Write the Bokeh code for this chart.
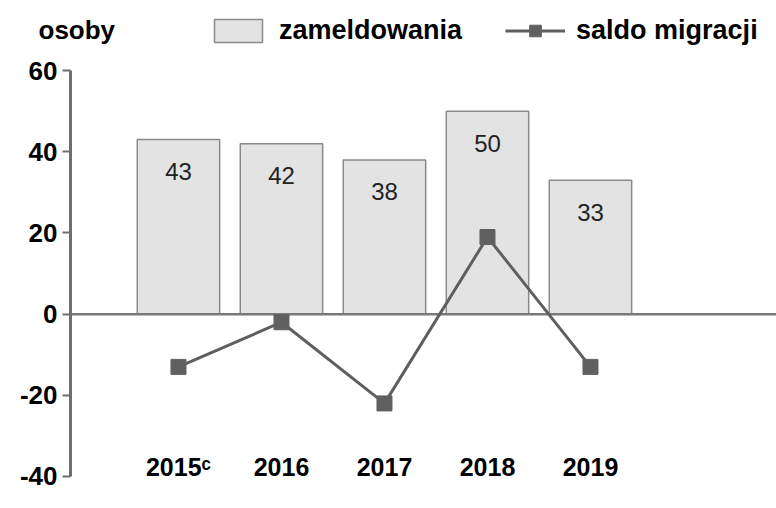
from bokeh.plotting import figure
from bokeh.models import Range1d, FixedTicker, Label, Legend, LegendItem, ColumnDataSource
from bokeh.core.properties import value
from bokeh.embed import file_html
from bokeh.resources import INLINE

years = ["2015ᶜ", "2016", "2017", "2018", "2019"]
zameldowania = [43, 42, 38, 50, 33]
saldo = [-13, -2, -22, 19, -13]
y_ticks = [-40, -20, 0, 20, 40, 60]

xs = list(range(len(years)))
src = ColumnDataSource(dict(x=xs, z=zameldowania, s=saldo, lbl=[str(v) for v in zameldowania]))

FONT = "Liberation Sans"
AXIS_X = -1.0485  # x position (data units) where the value axis stands

p = figure(width=776, height=508, output_backend="svg", toolbar_location=None,
           x_range=Range1d(-1.728, 5.806), y_range=Range1d(-43.46, 77.28),
           min_border_left=0, min_border_right=0, min_border_top=0, min_border_bottom=18)
p.outline_line_color = None
p.xgrid.visible = False
p.ygrid.visible = False
p.background_fill_color = "white"
p.border_fill_color = "white"

bars = p.vbar(x="x", top="z", bottom=0, width=0.8, source=src,
              fill_color="#e3e3e3", line_color="#8a8a8a", line_width=1.5)
p.text(x="x", y="z", text="lbl", source=src, y_offset=32, text_align="center",
       text_baseline="middle", text_font=value(FONT), text_font_size="24px", text_color="#222222")

# zero reference line starting at the value axis
p.ray(x=[AXIS_X], y=[0], length=0, angle=0, line_color="#7a7a7a", line_width=2.5)

ln = p.line(x="x", y="s", source=src, line_color="#5f5f5f", line_width=3)
sq = p.scatter(x="x", y="s", source=src, marker="square", size=15,
               fill_color="#606060", line_color="#606060")

# y axis
p.yaxis.fixed_location = AXIS_X
p.yaxis.ticker = FixedTicker(ticks=y_ticks)
p.yaxis.major_label_overrides = {t: str(t) for t in y_ticks}
p.yaxis.bounds = (-40, 60)
p.yaxis.axis_line_color = "#6e6e6e"
p.yaxis.axis_line_width = 3
p.yaxis.major_tick_line_color = "#6e6e6e"
p.yaxis.major_tick_line_width = 2
p.yaxis.major_tick_out = 8
p.yaxis.major_tick_in = 0
p.yaxis.minor_tick_line_color = None
p.yaxis.major_label_text_font = FONT
p.yaxis.major_label_text_font_style = "bold"
p.yaxis.major_label_text_font_size = "26px"
p.yaxis.major_label_text_color = "black"
p.yaxis.major_label_standoff = 5

# x axis
p.xaxis.ticker = FixedTicker(ticks=xs)
p.xaxis.major_label_overrides = {i: y for i, y in zip(xs, years)}
p.xaxis.axis_line_color = None
p.xaxis.major_tick_line_color = None
p.xaxis.minor_tick_line_color = None
p.xaxis.major_label_text_font = FONT
p.xaxis.major_label_text_font_style = "bold"
p.xaxis.major_label_text_font_size = "25px"
p.xaxis.major_label_text_color = "black"
p.xaxis.major_label_standoff = -44

legend = Legend(items=[LegendItem(label="zameldowania", renderers=[bars]),
                       LegendItem(label="saldo migracji", renderers=[ln, sq])],
                orientation="horizontal", location=(208, 444), margin=0, padding=0,
                spacing=43, label_standoff=11, glyph_width=60, glyph_height=29,
                border_line_color=None, background_fill_alpha=0,
                label_text_font=FONT, label_text_font_style="bold",
                label_text_font_size="27px", label_text_color="black")
p.add_layout(legend)

p.add_layout(Label(x=38, y=476, x_units="screen", y_units="screen", text="osoby",
                   text_font=FONT, text_font_style="bold", text_font_size="26px",
                   text_baseline="top", text_color="black"))

open("out.html", "w").write(file_html(p, INLINE))
